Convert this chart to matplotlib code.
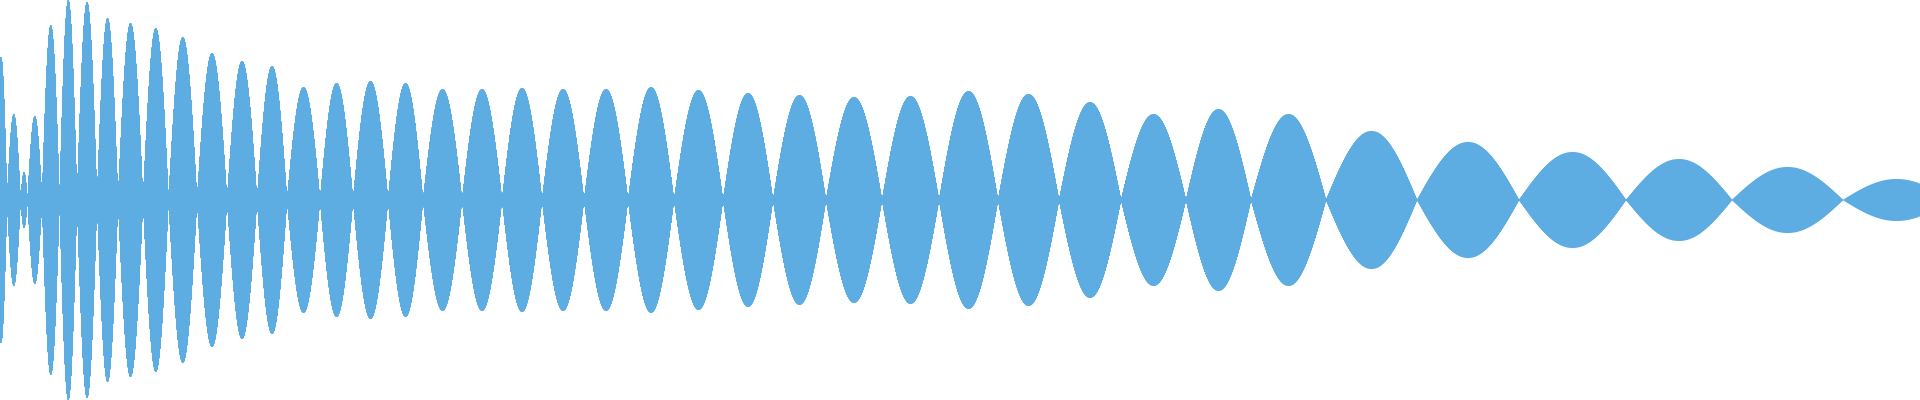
import numpy as np
import matplotlib
matplotlib.use('Agg')
import matplotlib.pyplot as plt

# Posiciones de los cruces por cero de la envolvente (eje x, 0..1920)
cruces = [-5, 7, 20.5, 27.5, 42, 59.5, 77, 97, 118, 143, 168.5, 197, 227, 257,
          287, 320, 353, 388, 423, 462, 502, 542, 584, 628, 674, 723, 773,
          826, 882, 939, 998, 1059, 1121, 1186, 1251, 1326, 1417, 1519, 1626,
          1732, 1843, 1950]

# Amplitud maxima de cada lobulo (1.0 = altura completa)
picos = [0.715, 0.43, 0.14, 0.42, 0.875, 1.0, 0.99, 0.91, 0.885, 0.86, 0.815,
         0.735, 0.695, 0.67, 0.565, 0.585, 0.595, 0.585, 0.555, 0.555, 0.56,
         0.555, 0.555, 0.565, 0.55, 0.535, 0.525, 0.515, 0.52, 0.545, 0.53,
         0.49, 0.43, 0.455, 0.43, 0.345, 0.29, 0.24, 0.205, 0.165, 0.105]

color_onda = '#5DADE2'
ancho = 1920


def envolvente(x):
    env = np.zeros_like(x)
    for a, b, p in zip(cruces[:-1], cruces[1:], picos):
        m = (x >= a) & (x < b)
        env[m] = p * np.sin(np.pi * (x[m] - a) / (b - a))
    return env


# Pico por columna de pixel, como un visor de forma de onda
sub = 8
x_fino = np.arange(0, ancho * sub) / sub
env = envolvente(x_fino).reshape(ancho, sub).max(axis=1)
env = np.append(env, env[-1])  # cerrar la ultima columna
x_col = np.arange(ancho + 1)

fig = plt.figure(figsize=(19.2, 4), dpi=100)
ax = fig.add_axes([0, 0, 1, 1])
ax.fill_between(x_col, -env, env, step='post', color=color_onda, linewidth=0)
ax.set_xlim(0, ancho)
ax.set_ylim(-1.0, 1.0)
ax.axis('off')

fig.savefig('out.png', dpi=100, facecolor='white')
